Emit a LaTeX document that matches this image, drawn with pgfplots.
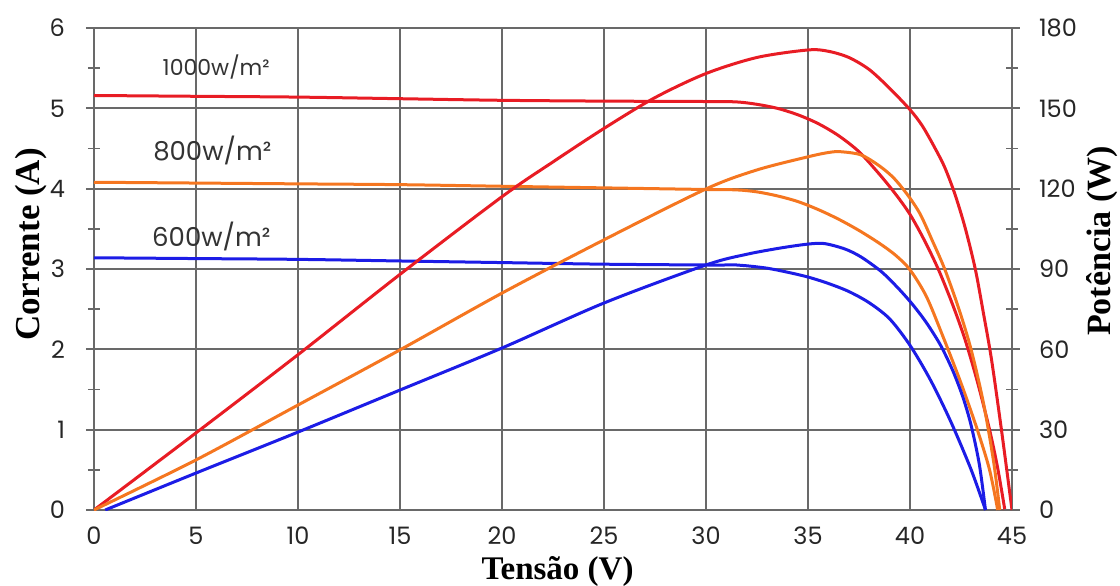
\documentclass[border=0pt]{standalone}
\usepackage{pgfplots}
\pgfplotsset{compat=1.18}
\usepackage{fontspec}
\setmainfont{Poppins}
\newfontfamily\labelfont{Liberation Serif}
\definecolor{cred}{RGB}{232,28,36}
\definecolor{corange}{RGB}{245,118,32}
\definecolor{cblue}{RGB}{28,28,230}
\definecolor{cgrid}{RGB}{105,105,105}

\pgfplotsset{
  common/.style={
    at={(0,0)}, anchor=south west, scale only axis,
    width=459pt, height=241pt,
    xmin=0, xmax=45,
    tick align=center,
    major tick length=8pt, minor tick length=6pt,
    tick style={cgrid, line width=0.9pt},
    axis line style={cgrid, line width=0.9pt},
    /pgf/number format/assume math mode=true,
    ticklabel style={font=\fontsize{12}{12}\selectfont, text=black!85},
    every axis plot/.append style={line width=1.5pt, smooth, tension=0.5},
  },
}

\begin{document}
\begin{tikzpicture}
\path[use as bounding box] (-47pt,-37.5pt) rectangle (513pt,255pt);
\begin{axis}[common,
  ymin=0, ymax=6,
  xtick={0,5,...,45}, ytick={0,1,...,6},
  minor ytick={0.5,1.5,...,5.5},
  xtick style={draw=none},
  grid=major,
  major grid style={cgrid, line width=0.9pt},
  yticklabel style={anchor=east, xshift=-7pt},
  xticklabel style={anchor=north, yshift=-1pt},
  xlabel={\labelfont\bfseries\fontsize{16.5}{16.5}\selectfont Tensão (V)},
  xlabel style={at={(axis description cs:0.505,0)}, anchor=center, yshift=-31pt},
  ylabel={\labelfont\bfseries\fontsize{17.5}{17.5}\selectfont Corrente (A)},
  ylabel style={at={(axis description cs:-0.068,0.551)}, anchor=center},
]
% I-V 1000 W/m2
\addplot[cred] coordinates {
(0,5.16) (5,5.15) (10,5.14) (15,5.12) (20,5.10) (25,5.09) (30,5.085) (31.5,5.08)
(32.5,5.05) (33.5,5.00) (34.5,4.92) (35.5,4.81) (36.5,4.66) (37.5,4.46) (38.5,4.18)
(39.3,3.93) (40.0,3.68) (40.7,3.36) (41.4,2.99) (42.1,2.55) (42.7,2.12) (43.3,1.60)
(43.9,1.00) (44.3,0.52) (44.65,0)};
% I-V 800 W/m2
\addplot[corange] coordinates {
(0,4.08) (5,4.07) (10,4.06) (15,4.05) (20,4.03) (25,4.01) (30,3.99) (31.5,3.985)
(32.5,3.96) (33.5,3.91) (34.5,3.84) (35.5,3.74) (36.5,3.62) (37.5,3.48) (38.5,3.32)
(39.3,3.17) (40.0,2.99) (40.8,2.66) (41.6,2.17) (42.5,1.58) (43.3,1.00) (43.9,0.50) (44.3,0)};
% I-V 600 W/m2
\addplot[cblue] coordinates {
(0,3.14) (5,3.13) (10,3.12) (15,3.10) (20,3.08) (25,3.06) (30,3.05) (31.5,3.05)
(32,3.04) (33,3.01) (34,2.96) (35,2.90) (36,2.82) (37,2.72) (38,2.58) (39,2.38)
(40,2.05) (41,1.62) (42,1.10) (43,0.50) (43.7,0)};
\node[font=\fontsize{11}{11}\selectfont, text=black!80] at (axis cs:5.99,5.52) {1000w/m²};
\node[font=\fontsize{13}{13}\selectfont, text=black!80] at (axis cs:5.8,4.48) {800w/m²};
\node[font=\fontsize{13}{13}\selectfont, text=black!80] at (axis cs:5.75,3.40) {600w/m²};
\end{axis}
\begin{axis}[common,
  ymin=0, ymax=180,
  axis x line=none, axis y line*=right,
  ytick={0,30,...,180}, minor ytick={15,45,...,165},
  yticklabel style={anchor=west, xshift=6pt},
  ylabel={\labelfont\bfseries\fontsize{17}{17}\selectfont Potência (W)},
  ylabel style={at={(axis description cs:1.098,0.558)}, anchor=center},
]
% P-V 1000 W/m2
\addplot[cred] coordinates {
(0,0) (5,28.8) (10,58) (15,88) (20,117) (22.5,130) (25,142.5) (27.5,154) (30,163)
(32.5,169) (35,171.8) (36,171.3) (37,169) (38,164.5) (39,157.5) (40,149.5)
(40.6,143.5) (41.2,135.5) (41.7,128) (42.2,118) (42.7,105.5) (43.2,90) (43.6,73.5) (44,56)
(44.5,29) (45.0,0)};
% P-V 800 W/m2
\addplot[corange] coordinates {
(0,0) (5,18.7) (10,39.2) (15,59.8) (20,81) (25,100.9) (30,119.9) (32.5,127) (35,131.9)
(36,133.5) (36.6,133.8) (37.6,132.6) (38.5,128.5) (39.2,124) (39.9,117.5) (40.5,110.5)
(41.1,100.5) (41.7,90) (42.4,75) (43.0,59.8) (43.6,40) (44.1,18) (44.4,0)};
% P-V 600 W/m2
\addplot[cblue] coordinates {
(0.55,0) (5,13.8) (10,29.1) (15,44.8) (20,60.5) (25,77.3) (30,91.5) (32,95.5) (33.7,97.9)
(35,99.3) (35.8,99.5) (36.8,97.5) (37.6,94.5) (38.6,89) (39.4,83) (40.1,77) (40.8,70)
(41.5,61.5) (42.1,52) (42.6,42) (43.0,31.5) (43.4,17) (43.7,0)};
\end{axis}
\end{tikzpicture}
\end{document}
